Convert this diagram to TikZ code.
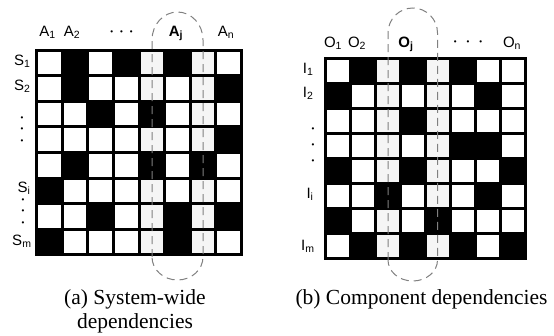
\documentclass[tikz,border=0pt]{standalone}
\usepackage{fontspec}
\setmainfont{Liberation Serif}
\setsansfont{Liberation Sans}

\begin{document}
\begin{tikzpicture}[x=1pt,y=-1pt,line width=3pt,
  label node/.style={font=\sffamily\fontsize{15}{15}\selectfont,inner sep=0pt,anchor=base},
  row node/.style={font=\sffamily\fontsize{15}{15}\selectfont,inner sep=0pt,anchor=base east},
  dots node/.style={font=\sffamily\fontsize{8}{11.5}\selectfont,inner sep=0pt,align=center},
  caption node/.style={font=\fontsize{21.5}{24}\selectfont,align=center,inner sep=0pt,anchor=base},
  focus/.style={draw=gray,line width=1pt,dash pattern=on 8pt off 5pt}]
  \useasboundingbox (0,0) rectangle (554,335);

  \foreach \row [count=\r] in {{0,1,0,1,0,1,0,0},{0,1,0,0,0,0,0,1},{0,0,1,0,1,0,0,0},{0,0,0,0,0,0,0,1},{0,1,0,0,1,0,1,0},{1,0,0,0,0,0,0,0},{0,0,1,0,0,1,0,1},{1,0,0,0,0,1,0,0}}
    \foreach \v [count=\c] in \row {
      \def\fc{white}
      \ifnum\c=5 \def\fc{black!4}\fi
      \ifnum\c=7 \def\fc{black!4}\fi
      \ifnum\v=1 \def\fc{black}\fi
      \draw[fill=\fc] ({36.7+(\c-1)*25.6},{50+(\r-1)*25.6}) rectangle +(25.6,25.6);
    }
  \foreach \row [count=\r] in {{0,1,0,1,0,1,0,0},{1,0,0,0,0,0,1,0},{0,0,0,1,0,0,0,0},{0,0,0,0,0,1,1,0},{1,0,0,1,0,0,0,1},{0,0,1,0,0,0,1,0},{1,0,0,0,1,0,0,0},{0,1,0,1,0,1,0,1}}
    \foreach \v [count=\c] in \row {
      \def\fc{white}
      \ifnum\c=3 \def\fc{black!4}\fi
      \ifnum\c=5 \def\fc{black!4}\fi
      \ifnum\v=1 \def\fc{black}\fi
      \draw[fill=\fc] ({325+(\c-1)*25},{58.3+(\r-1)*25}) rectangle +(25,25);
    }

  \node[label node] (a1) at (47.5,36) {A\textsubscript{1}};
  \node[label node] (a2) at (72,36) {A\textsubscript{2}};
  \node[label node] (aj) at (176,36) {\textbf{A\textsubscript{j}}};
  \node[label node] (an) at (226,36) {A\textsubscript{n}};
  \node[dots node] (adots) at (121.5,33) {•\hspace{7pt}•\hspace{7pt}•};

  \node[row node] (s1) at (32,65) {S\textsubscript{1}};
  \node[row node] (s2) at (32,90) {S\textsubscript{2}};
  \node[row node] (si) at (32,192) {S\textsubscript{i}};
  \node[row node] (sm) at (33,245) {S\textsubscript{m}};
  \node[dots node] (sdots1) at (22,130) {•\\•\\•};
  \node[dots node] (sdots2) at (23,212) {•\\•\\•};

  \node[label node] (o1) at (333,47) {O\textsubscript{1}};
  \node[label node] (o2) at (357,47) {O\textsubscript{2}};
  \node[label node] (oj) at (406,47) {\textbf{O\textsubscript{j}}};
  \node[label node] (on) at (512,47) {O\textsubscript{n}};
  \node[dots node] (odots) at (468,43) {•\hspace{10pt}•\hspace{10pt}•};

  \node[row node] (i1) at (315,73) {I\textsubscript{1}};
  \node[row node] (i2) at (315,97) {I\textsubscript{2}};
  \node[row node] (ii) at (315,198) {I\textsubscript{i}};
  \node[row node] (im) at (316,250) {I\textsubscript{m}};
  \node[dots node,font=\sffamily\fontsize{8}{16}\selectfont] (idots) at (313,146) {•\\•\\•};

  \draw[focus] (152,257) -- (152,40) arc[start angle=180,end angle=0,x radius=25.5pt,y radius=28pt] -- (203,257) arc[start angle=0,end angle=-180,x radius=25.5pt,y radius=23pt];
  \draw[focus] (388,260) -- (388,33) arc[start angle=180,end angle=0,x radius=24.75pt,y radius=25pt] -- (437.5,260) arc[start angle=0,end angle=-180,x radius=24.75pt,y radius=21pt];

  \node[caption node] (capa) at (135,328) {(a) System-wide\\dependencies};
  \node[caption node] (capb) at (421.5,304) {(b) Component dependencies};
\end{tikzpicture}
\end{document}
